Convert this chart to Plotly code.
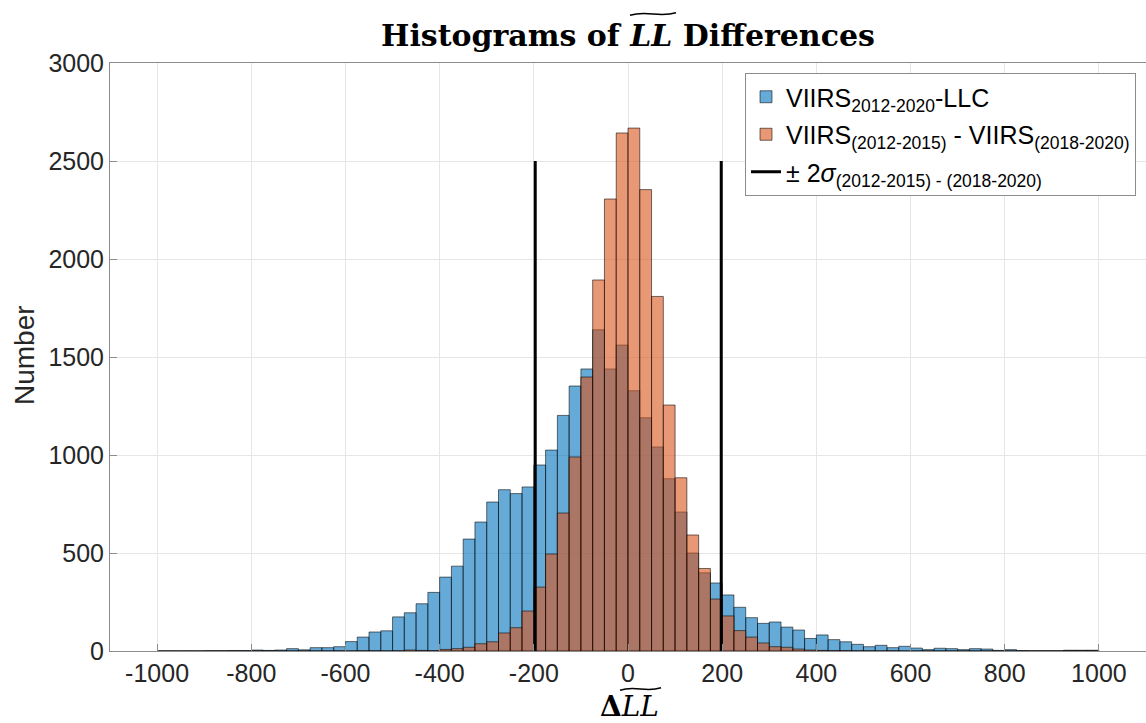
import plotly.graph_objects as go

# ---------------- data ----------------
BIN_START = -1000
BIN_WIDTH = 25

viirs_llc = [
    0, 0, 0, 0, 1, 1, 2, 2, 5, 3,
    5, 12, 6, 17, 17, 22, 48, 71, 97, 103,
    174, 195, 241, 299, 377, 433, 571, 658, 760, 823,
    803, 837, 949, 1025, 1202, 1352, 1439, 1639, 1439, 1561,
    1328, 1190, 1041, 879, 709, 500, 399, 347, 286, 223,
    170, 141, 148, 122, 107, 64, 82, 58, 47, 34,
    22, 29, 17, 24, 15, 7, 14, 12, 7, 12,
    10, 3, 7, 2, 1, 1, 1, 4, 4, 4,
]
viirs_viirs = [
    0, 0, 0, 0, 0, 0, 0, 0, 0, 0,
    0, 0, 0, 0, 0, 1, 0, 1, 1, 0,
    1, 5, 3, 2, 8, 12, 19, 37, 47, 92,
    119, 204, 326, 495, 704, 990, 1398, 1893, 2306, 2643,
    2668, 2354, 1809, 1255, 884, 592, 421, 265, 179, 104,
    71, 41, 22, 19, 10, 5, 3, 2, 2, 1,
    1, 0, 1, 0, 0, 0, 0, 0, 0, 0,
    0, 0, 0, 0, 0, 0, 0, 2, 2, 2,
]
sigma_lines = [-197, 198]
sigma_top = 2500

x_ticks = [-1000, -800, -600, -400, -200, 0, 200, 400, 600, 800, 1000]
y_ticks = [0, 500, 1000, 1500, 2000, 2500, 3000]

centers = [BIN_START + BIN_WIDTH * (i + 0.5) for i in range(len(viirs_llc))]

# ---------------- layout geometry (pixels) ----------------
W, H = 1146, 723
ML, MR, MT, MB = 110, 0, 63, 72
PW = W - ML - MR
PH = H - MT - MB


def paper(px, py):
    return (px - ML) / PW, (H - MB - py) / PH


def tilde_path(x0, x1, yc, amp):
    w = x1 - x0
    pts = [(x0, yc + amp * 0.4), (x0 + 0.38 * w, yc - amp * 1.3),
           (x0 + 0.62 * w, yc + amp * 1.3), (x1, yc - amp * 0.4)]
    p = [paper(*q) for q in pts]
    return "M {:.5f},{:.5f} C {:.5f},{:.5f} {:.5f},{:.5f} {:.5f},{:.5f}".format(
        p[0][0], p[0][1], p[1][0], p[1][1], p[2][0], p[2][1], p[3][0], p[3][1])


fig = go.Figure()
fig.add_trace(go.Bar(
    x=centers, y=viirs_llc, width=BIN_WIDTH,
    name="VIIRS<sub>2012-2020</sub>-LLC",
    legendgroup="a",
    marker=dict(color="rgba(0,114,189,0.6)",
                line=dict(color="rgba(0,0,0,0.55)", width=1)),
))
fig.add_trace(go.Bar(
    x=centers, y=viirs_viirs, width=BIN_WIDTH,
    name="VIIRS<sub>(2012-2015)</sub> - VIIRS<sub>(2018-2020)</sub>",
    legendgroup="b",
    marker=dict(color="rgba(217,83,25,0.6)",
                line=dict(color="rgba(0,0,0,0.55)", width=1)),
))
lx, ly = [], []
for v in sigma_lines:
    lx += [v, v, None]
    ly += [0, sigma_top, None]
fig.add_trace(go.Scatter(
    x=lx, y=ly, mode="lines",
    legendgroup="c",
    line=dict(color="black", width=3),
    name="± 2<i>σ</i><sub>(2012-2015) - (2018-2020)</sub>",
))

axis_common = dict(
    showgrid=True, gridcolor="#e6e6e6", gridwidth=1,
    zeroline=False, showline=True, linecolor="#8c8c8c", linewidth=1,
    mirror=True, ticks="inside", ticklen=7, tickcolor="#8c8c8c",
    automargin=False,
    tickfont=dict(family="Liberation Sans, Arial, sans-serif", size=25, color="#262626"),
)

fig.update_layout(
    width=W, height=H,
    margin=dict(l=ML, r=MR, t=MT, b=MB, pad=0, autoexpand=False),
    paper_bgcolor="white", plot_bgcolor="white",
    barmode="overlay",
    showlegend=True,
    legend=dict(
        x=paper(745, 0)[0], y=paper(0, 73)[1], xanchor="left", yanchor="top",
        bgcolor="white", bordercolor="#8c8c8c", borderwidth=1,
        font=dict(family="Liberation Sans, Arial, sans-serif", size=25, color="black"),
        traceorder="grouped", tracegroupgap=2,
    ),
    xaxis=dict(range=[-1100, 1100], tickvals=x_ticks,
               ticktext=[str(t) for t in x_ticks], **axis_common),
    yaxis=dict(range=[0, 3000], tickvals=y_ticks,
               ticktext=[str(t) for t in y_ticks], **axis_common),
    title=dict(
        text="<b>Histograms of <i>LL</i> Differences</b>",
        font=dict(family="DejaVu Serif, serif", size=30, color="black"),
        x=0.5, xref="paper", xanchor="center",
        y=1 - 35 / H, yref="container", yanchor="middle",
    ),
)

# y-axis label
xl, yl = paper(24, 355)
fig.add_annotation(text="Number", x=xl, y=yl, xref="paper", yref="paper",
                   textangle=-90, showarrow=False, xanchor="center", yanchor="middle",
                   font=dict(family="Liberation Sans, Arial, sans-serif", size=28, color="#262626"))
# x-axis label
xl, yl = paper(629, 706)
fig.add_annotation(text="<b>Δ</b><i>LL</i>", x=xl, y=yl, xref="paper", yref="paper",
                   showarrow=False, xanchor="center", yanchor="middle",
                   font=dict(family="DejaVu Serif, serif", size=28, color="black"))

# wide tildes (decoration of the LaTeX text)
fig.add_shape(type="path", xref="paper", yref="paper",
              path=tilde_path(620, 661, 689, 3.0), line=dict(color="black", width=1.5))
fig.add_shape(type="path", xref="paper", yref="paper",
              path=tilde_path(630, 676, 14, 3.0), line=dict(color="black", width=1.5))

fig.write_html("out.html", config={"displayModeBar": False},
               post_script="document.body.style.margin='0';document.body.style.overflow='hidden';")
